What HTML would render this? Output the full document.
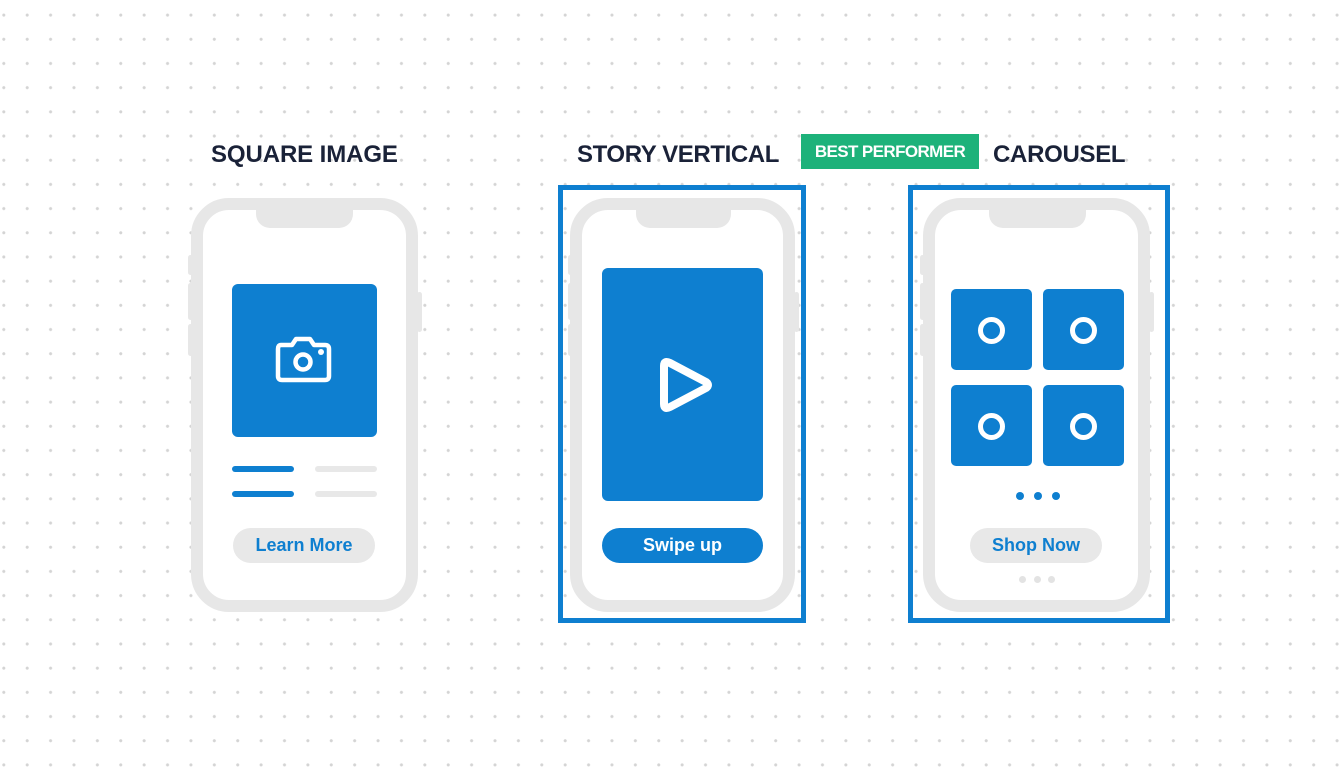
<!DOCTYPE html>
<html><head><meta charset="utf-8"><style>
*{margin:0;padding:0;box-sizing:border-box}
body{width:1344px;height:768px;position:relative;overflow:hidden;background:#fff;
background-image:radial-gradient(circle,#d4d4d4 1.3px,transparent 1.8px);background-size:23.4px 24.2px;background-position:15.5px 3px;font-family:"Liberation Sans",sans-serif}
.a{position:absolute}
.ph{position:absolute;border:12px solid #e7e7e7;border-radius:38px;background:#fff}
.notch{position:absolute;background:#e7e7e7;border-radius:0 0 14px 14px}
.sb{position:absolute;background:#e7e7e7;border-radius:3px;width:5px}
.blue{background:#0e7fd0}
.title{position:absolute;font-weight:bold;font-size:24px;color:#1a2238;white-space:nowrap;letter-spacing:-0.1px}
.btn{position:absolute;border-radius:18px;font-weight:bold;font-size:18px;text-align:center;line-height:35px}
.frame{position:absolute;border:5px solid #0e7fd0}
.tile{position:absolute;width:81px;height:81px;background:#0e7fd0;border-radius:5px}
.tile:after{content:"";position:absolute;left:27px;top:28px;width:27px;height:27px;border:5px solid #fff;border-radius:50%;box-sizing:border-box}
.dot{position:absolute;border-radius:50%}
</style></head><body>

<div class="title" style="left:211px;top:141px">SQUARE IMAGE</div>
<div class="title" style="left:577px;top:141px;letter-spacing:-0.4px">STORY VERTICAL</div>
<div class="a" style="left:801px;top:134px;width:178px;height:35px;background:#1db27a;color:#fff;font-weight:bold;font-size:17px;line-height:35px;text-align:center;letter-spacing:-0.6px">BEST PERFORMER</div>
<div class="title" style="left:993px;top:141px;letter-spacing:-0.3px">CAROUSEL</div>

<!-- Phone 1 -->
<div class="sb" style="left:188px;top:255px;height:20px"></div>
<div class="sb" style="left:188px;top:283px;height:37px"></div>
<div class="sb" style="left:188px;top:324px;height:32px"></div>
<div class="sb" style="left:417px;top:292px;height:40px"></div>
<div class="ph" style="left:191px;top:198px;width:227px;height:414px"></div>
<div class="notch" style="left:256px;top:198px;width:97px;height:30px"></div>
<div class="a blue" style="left:232px;top:284px;width:145px;height:153px;border-radius:6px"></div>
<svg class="a" style="left:274px;top:334px" width="60" height="50" viewBox="0 0 60 50">
<path d="M7 11 H18 L22 5 H36 L40 11 H51 Q55 11 55 15 V42 Q55 46 51 46 H8 Q4 46 4 42 V15 Q4 11 7 11 Z" fill="none" stroke="#fff" stroke-width="4.5" stroke-linejoin="round"/>
<circle cx="29" cy="28" r="7.5" fill="none" stroke="#fff" stroke-width="4.5"/>
<circle cx="47" cy="18" r="3" fill="#fff"/></svg>
<div class="a blue" style="left:232px;top:466px;width:62px;height:6px;border-radius:3px"></div>
<div class="a" style="left:315px;top:466px;width:62px;height:6px;border-radius:3px;background:#e8e8e8"></div>
<div class="a blue" style="left:232px;top:491px;width:62px;height:6px;border-radius:3px"></div>
<div class="a" style="left:315px;top:491px;width:62px;height:6px;border-radius:3px;background:#e8e8e8"></div>
<div class="btn" style="left:233px;top:528px;width:142px;background:#e8e8e8;color:#0e7fd0">Learn More</div>

<!-- Phone 2 -->
<div class="frame" style="left:558px;top:185px;width:248px;height:438px"></div>
<div class="sb" style="left:568px;top:255px;height:20px"></div>
<div class="sb" style="left:568px;top:283px;height:37px"></div>
<div class="sb" style="left:568px;top:324px;height:32px"></div>
<div class="sb" style="left:794px;top:292px;height:40px"></div>
<div class="ph" style="left:570px;top:198px;width:225px;height:414px"></div>
<div class="notch" style="left:636px;top:198px;width:95px;height:30px"></div>
<div class="a blue" style="left:602px;top:268px;width:161px;height:233px;border-radius:6px"></div>
<svg class="a" style="left:655px;top:355px" width="60" height="60" viewBox="0 0 60 60">
<path d="M9 11 Q9 5 15 8 L51 27 Q55 30 51 33 L15 52 Q9 55 9 49 Z" fill="none" stroke="#fff" stroke-width="8" stroke-linejoin="round"/></svg>
<div class="btn blue" style="left:602px;top:528px;width:161px;color:#fff">Swipe up</div>

<!-- Phone 3 -->
<div class="frame" style="left:908px;top:185px;width:262px;height:438px"></div>
<div class="sb" style="left:920px;top:255px;height:20px"></div>
<div class="sb" style="left:920px;top:283px;height:37px"></div>
<div class="sb" style="left:920px;top:324px;height:32px"></div>
<div class="sb" style="left:1149px;top:292px;height:40px"></div>
<div class="ph" style="left:923px;top:198px;width:227px;height:414px"></div>
<div class="notch" style="left:989px;top:198px;width:97px;height:30px"></div>
<div class="tile" style="left:951px;top:289px"></div>
<div class="tile" style="left:1043px;top:289px"></div>
<div class="tile" style="left:951px;top:385px"></div>
<div class="tile" style="left:1043px;top:385px"></div>
<div class="dot blue" style="left:1016px;top:492px;width:8px;height:8px"></div>
<div class="dot blue" style="left:1034px;top:492px;width:8px;height:8px"></div>
<div class="dot blue" style="left:1052px;top:492px;width:8px;height:8px"></div>
<div class="btn" style="left:970px;top:528px;width:132px;background:#e8e8e8;color:#0e7fd0">Shop Now</div>
<div class="dot" style="left:1019px;top:576px;width:7px;height:7px;background:#e3e3e3"></div>
<div class="dot" style="left:1034px;top:576px;width:7px;height:7px;background:#e3e3e3"></div>
<div class="dot" style="left:1048px;top:576px;width:7px;height:7px;background:#e3e3e3"></div>
</body></html>
